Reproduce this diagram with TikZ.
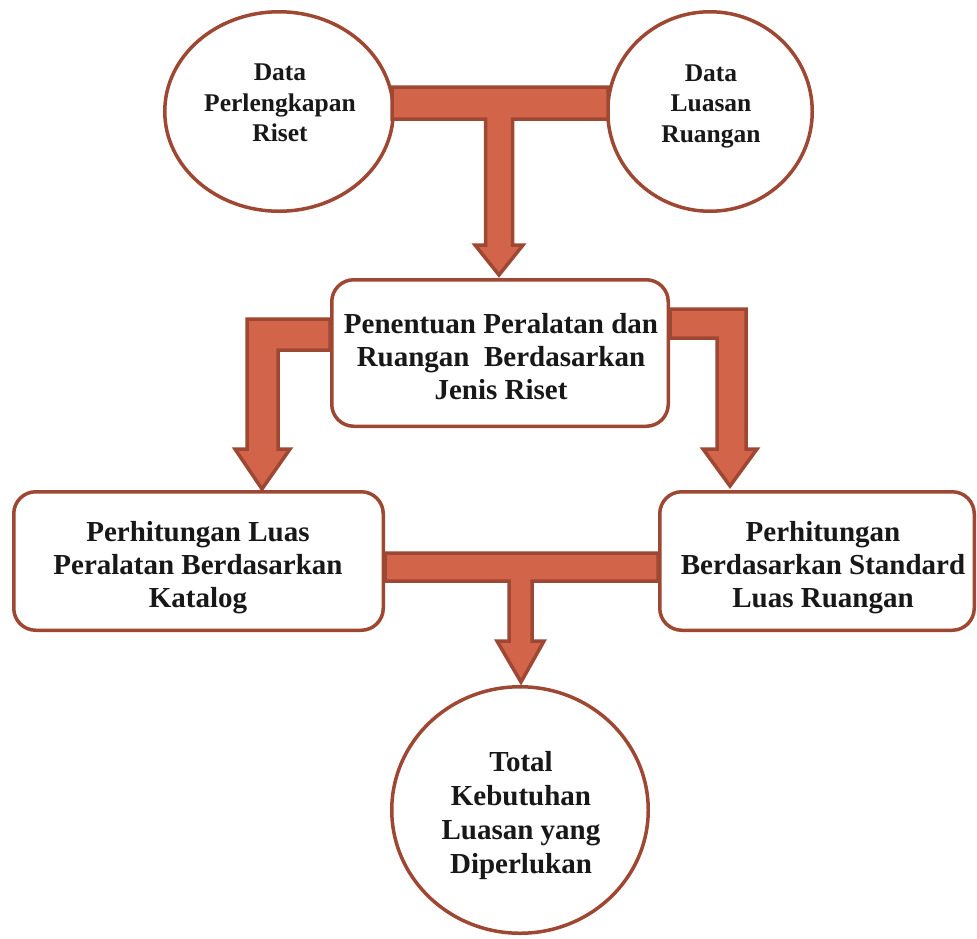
\documentclass[tikz,border=0pt]{standalone}
\usepackage{fontspec}
\setmainfont{Liberation Serif}
\usetikzlibrary{shapes.geometric,calc}
\definecolor{arrfill}{RGB}{210,100,74}
\definecolor{brn}{RGB}{158,72,52}
\definecolor{txtc}{RGB}{24,24,24}
\begin{document}
\begin{tikzpicture}[x=1pt,y=-1pt,
  shapebox/.style={draw=brn, line width=3.5pt, fill=white, rounded corners=22pt, inner sep=0pt},
  oval/.style={draw=brn, line width=3.5pt, fill=white, ellipse, inner sep=0pt},
  bigtxt/.style={align=center, text=txtc, inner sep=0pt, font=\bfseries\fontsize{29}{33}\selectfont},
  smalltxt/.style={align=center, text=txtc, inner sep=0pt, font=\bfseries\fontsize{25.5}{30.5}\selectfont},
  fatarrow/.style={draw=brn, fill=arrfill, line width=3.5pt, line join=miter}]
\useasboundingbox (0,0) rectangle (977,938);
% shapes
\node[oval, minimum width=228.5, minimum height=199.5] (perl) at (279,111.5) {};
\node[oval, minimum width=204.5, minimum height=199.5] (luas) at (710,111.5) {};
\node[shapebox, minimum width=336.5, minimum height=146.5] (pen) at (500,353) {};
\node[shapebox, minimum width=369.5, minimum height=138.5] (kat) at (198.5,561) {};
\node[shapebox, minimum width=314.5, minimum height=138.5] (std) at (817,561) {};
\node[oval, minimum width=256.5, minimum height=246.5] (tot) at (520,810) {};
% texts
\node[smalltxt] (perlT) at (280,103) {Data\\Perlengkapan\\Riset};
\node[smalltxt] (luasT) at (711,106) {Data\\Luasan\\Ruangan};
\node[bigtxt] (penT) at (501,357) {Penentuan Peralatan dan\\Ruangan\ \ Berdasarkan\\Jenis Riset};
\node[bigtxt] (katT) at (198,568) {Perhitungan Luas\\Peralatan Berdasarkan\\Katalog};
\node[bigtxt] (stdT) at (823,568) {Perhitungan\\Berdasarkan Standard\\Luas Ruangan};
\node[bigtxt, font=\bfseries\fontsize{29}{34}\selectfont] (totT) at (521,816) {Total\\Kebutuhan\\Luasan yang\\Diperlukan};
% top T arrow: from perl and luas to pen
\draw[fatarrow] ($(pen.north)+(-1,-3)$) -- ++(-24,-30) -- ++(10.5,0) -- ++(0,-126)
  -- ++(-93.5,0) -- ++(0,-32) -- ++(216,0) -- ++(0,32) -- ++(-95.5,0)
  -- ++(0,126) -- ++(10.5,0) -- cycle;
% left elbow: pen to kat
\draw[fatarrow] (262,489) -- (235,449) -- (247,449) -- (247,319) -- (pen.west |- 0,319)
  -- (pen.west |- 0,350) -- (278,350) -- (278,449) -- (290,449) -- cycle;
% right elbow: pen to std
\draw[fatarrow] (730,486) -- (703,449) -- (717,449) -- (717,338) -- (pen.east |- 0,338)
  -- (pen.east |- 0,309) -- (746,309) -- (746,449) -- (757,449) -- cycle;
% bottom T: kat and std to tot
\draw[fatarrow] ($(tot.north)+(1,-3)$) -- ++(-24,-41) -- ++(12,0) -- ++(0,-60)
  -- (kat.east |- 0,581) -- (kat.east |- 0,553) -- (std.west |- 0,553) -- (std.west |- 0,581)
  -- (532,581) -- (532,641) -- (544,641) -- cycle;
\end{tikzpicture}
\end{document}
